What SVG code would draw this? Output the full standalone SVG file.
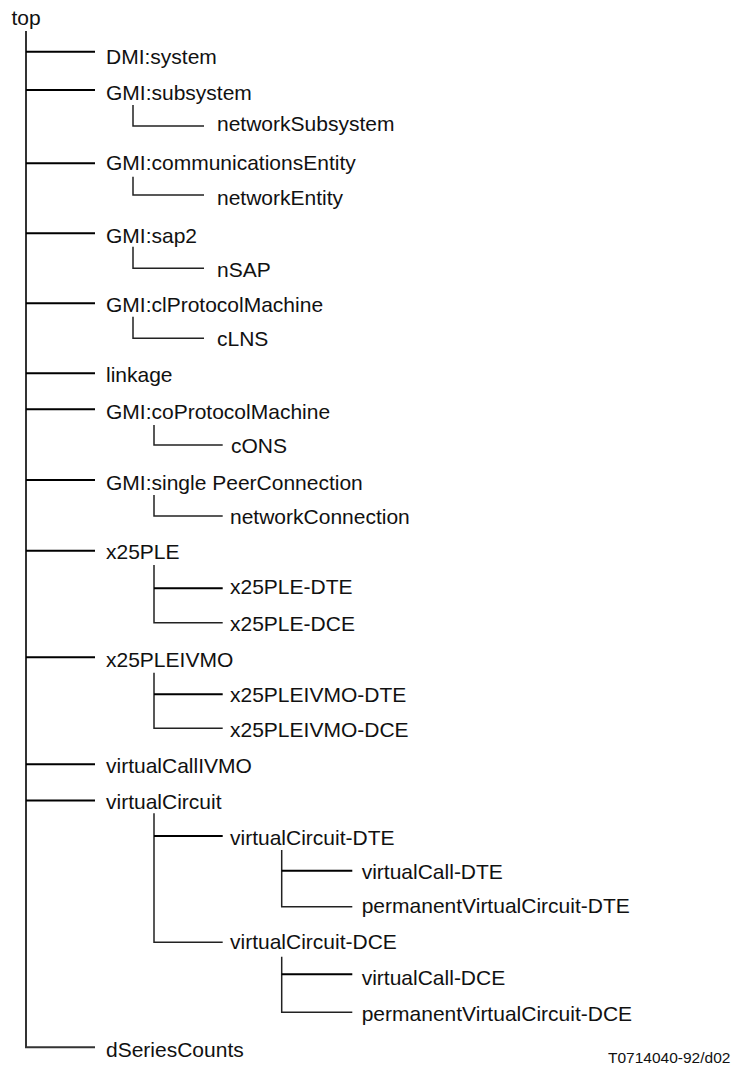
<svg xmlns="http://www.w3.org/2000/svg" width="736" height="1066" viewBox="0 0 736 1066">
<style>
text{font-family:"Liberation Sans",Arial,sans-serif;font-size:21px;fill:#111}
.note{font-size:15.5px}
.trunk{stroke:#333;stroke-width:2;fill:none}
.tee{stroke:#000;stroke-width:2;fill:none}
.elb{stroke:#222;stroke-width:1.5;fill:none}
</style>
<rect width="736" height="1066" fill="#fff"/>
<g id="connectors">
<path class="trunk" d="M26 31V1047.3H95"/>
<path class="tee" d="M26 51.7H95M26 90H95M26 163.3H95M26 233.3H95M26 303.3H95M26 373.3H95M26 409.3H95M26 480H95M26 550.7H95M26 657.3H95M26 764.3H95M26 800.5H95"/>
<path class="elb" d="M133 105V126H204M133 176.7V195H204M133 246.7V268.3H204M133 316.7V338.3H204"/>
<path class="elb" d="M154 425V445H222.7M154 495V516H222.7"/>
<path class="elb" d="M154 565V622.7H222.7M154 672.7V728.3H222.7M154 813.3V942.3H222.7"/>
<path class="tee" d="M154 588.3H222.7M154 694.3H222.7M154 836H222.7"/>
<path class="elb" d="M281.7 850V906.7H352.3M281.7 956.7V1012.3H352.3"/>
<path class="tee" d="M281.7 870.7H352.3M281.7 974.3H352.3"/>
</g>
<g id="n-top"><text x="11.5" y="25">top</text></g>
<g id="n-dmi-system"><text x="106" y="64">DMI:system</text></g>
<g id="n-gmi-subsystem"><text x="106" y="99.5">GMI:subsystem</text></g>
<g id="n-networkSubsystem"><text x="217" y="131">networkSubsystem</text></g>
<g id="n-gmi-communicationsEntity"><text x="106" y="169.5">GMI:communicationsEntity</text></g>
<g id="n-networkEntity"><text x="217" y="205">networkEntity</text></g>
<g id="n-gmi-sap2"><text x="106" y="242.7">GMI:sap2</text></g>
<g id="n-nSAP"><text x="217" y="277.3">nSAP</text></g>
<g id="n-gmi-clProtocolMachine"><text x="106" y="311.7">GMI:clProtocolMachine</text></g>
<g id="n-cLNS"><text x="217" y="345.7">cLNS</text></g>
<g id="n-linkage"><text x="106" y="381.7">linkage</text></g>
<g id="n-gmi-coProtocolMachine"><text x="106" y="419">GMI:coProtocolMachine</text></g>
<g id="n-cONS"><text x="231" y="452.7">cONS</text></g>
<g id="n-gmi-singlePeerConnection"><text x="106" y="490">GMI:single PeerConnection</text></g>
<g id="n-networkConnection"><text x="230" y="524.3">networkConnection</text></g>
<g id="n-x25PLE"><text x="106" y="559.3">x25PLE</text></g>
<g id="n-x25PLE-DTE"><text x="230" y="594.3">x25PLE-DTE</text></g>
<g id="n-x25PLE-DCE"><text x="230" y="631">x25PLE-DCE</text></g>
<g id="n-x25PLEIVMO"><text x="106" y="666.7">x25PLEIVMO</text></g>
<g id="n-x25PLEIVMO-DTE"><text x="230" y="701.7">x25PLEIVMO-DTE</text></g>
<g id="n-x25PLEIVMO-DCE"><text x="230" y="736.7">x25PLEIVMO-DCE</text></g>
<g id="n-virtualCallIVMO"><text x="106" y="773">virtualCallIVMO</text></g>
<g id="n-virtualCircuit"><text x="106" y="809.3">virtualCircuit</text></g>
<g id="n-virtualCircuit-DTE"><text x="230" y="845">virtualCircuit-DTE</text></g>
<g id="n-virtualCall-DTE"><text x="361.7" y="879.3">virtualCall-DTE</text></g>
<g id="n-permanentVirtualCircuit-DTE"><text x="361.7" y="913.3">permanentVirtualCircuit-DTE</text></g>
<g id="n-virtualCircuit-DCE"><text x="230" y="949.3">virtualCircuit-DCE</text></g>
<g id="n-virtualCall-DCE"><text x="361.7" y="985">virtualCall-DCE</text></g>
<g id="n-permanentVirtualCircuit-DCE"><text x="361.7" y="1021">permanentVirtualCircuit-DCE</text></g>
<g id="n-dSeriesCounts"><text x="106" y="1057">dSeriesCounts</text></g>
<g id="figure-id"><text class="note" x="608" y="1063">T0714040-92/d02</text></g>
</svg>
